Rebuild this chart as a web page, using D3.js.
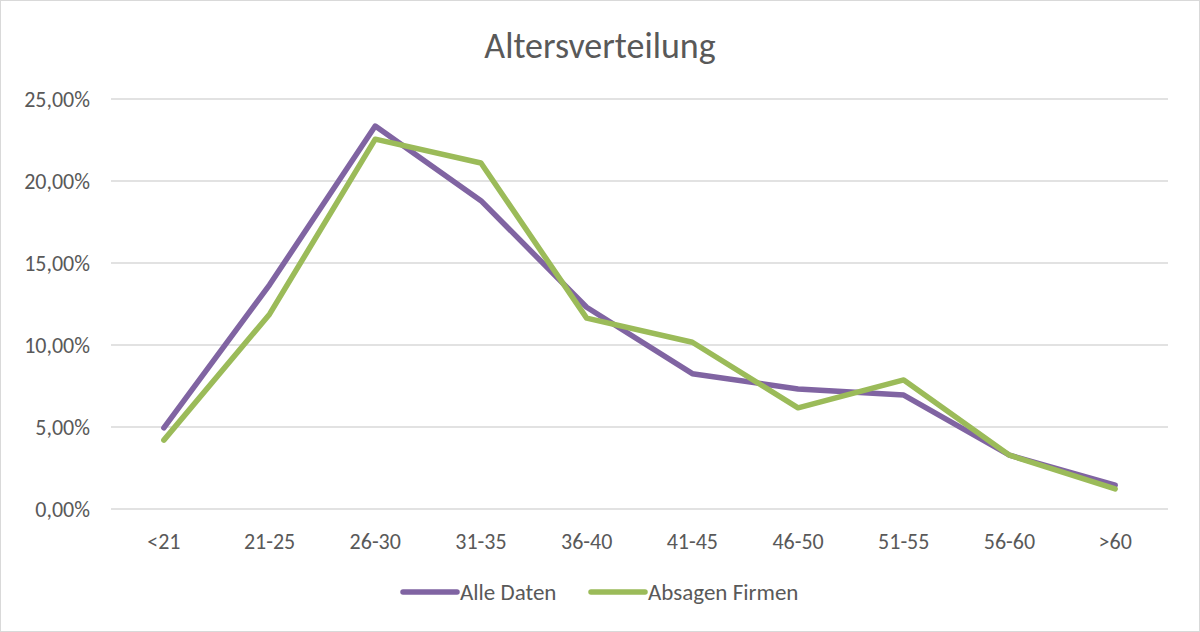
<!DOCTYPE html>
<html>
<head>
<meta charset="utf-8">
<script src="https://cdn.jsdelivr.net/npm/d3@7"></script>
<style>
body { margin: 0; background: #fff; }
</style>
</head>
<body>
<div id="chart"></div>
<script>
const width = 1200;
const height = 632;
const marginTop = 99;
const marginRight = 32;
const marginBottom = 123;
const marginLeft = 111;
const title = 'Altersverteilung';

const categories = ['<21', '21-25', '26-30', '31-35', '36-40', '41-45', '46-50', '51-55', '56-60', '>60'];
const alleDaten = [4.95, 13.67, 23.35, 18.8, 12.3, 8.25, 7.32, 6.95, 3.28, 1.45];
const absagenFirmen = [4.2, 11.88, 22.55, 21.1, 11.64, 10.17, 6.17, 7.87, 3.28, 1.22];
const yTicks = [0, 5, 10, 15, 20, 25];

const series = [
  {name: 'Alle Daten', values: alleDaten, color: '#8064A2'},
  {name: 'Absagen Firmen', values: absagenFirmen, color: '#9BBB59'}
];

const font = 'Carlito, "Open Sans", sans-serif';
const textColor = '#595959';

const svg = d3.select('#chart').append('svg')
  .attr('width', width)
  .attr('height', height)
  .style('font-family', font);

// outer border
svg.append('rect')
  .attr('x', 0.5).attr('y', 0.5)
  .attr('width', width - 1).attr('height', height - 1)
  .attr('fill', '#fff')
  .attr('stroke', '#d9d9d9');

const x = d3.scaleBand()
  .domain(categories)
  .range([marginLeft, width - marginRight]);

const y = d3.scaleLinear()
  .domain([0, 25])
  .range([height - marginBottom, marginTop]);

// gridlines
svg.append('g')
  .selectAll('line')
  .data(yTicks)
  .join('line')
  .attr('x1', marginLeft)
  .attr('x2', width - marginRight)
  .attr('y1', d => y(d))
  .attr('y2', d => y(d))
  .attr('stroke', '#d9d9d9')
  .attr('stroke-width', 1.5);

// y axis labels
const yAxis = svg.append('g')
  .attr('transform', `translate(${marginLeft - 18},0)`)
  .call(d3.axisLeft(y).tickValues(yTicks).tickSize(0).tickFormat(d => d.toFixed(2).replace('.', ',') + '%'));
yAxis.select('.domain').remove();
yAxis.selectAll('text')
  .attr('fill', textColor)
  .style('font-size', '22px')
  .style('font-family', font);

// x axis labels
const xAxis = svg.append('g')
  .attr('transform', `translate(0,${height - marginBottom + 21})`)
  .call(d3.axisBottom(x).tickSize(0));
xAxis.select('.domain').remove();
xAxis.selectAll('text')
  .attr('fill', textColor)
  .style('font-size', '22px')
  .style('font-family', font);

const line = d3.line()
  .x((d, i) => x(categories[i]) + x.bandwidth() / 2)
  .y(d => y(d));

svg.append('g')
  .selectAll('path')
  .data(series)
  .join('path')
  .attr('d', d => line(d.values))
  .attr('fill', 'none')
  .attr('stroke', d => d.color)
  .attr('stroke-width', 5.5)
  .attr('stroke-linejoin', 'round')
  .attr('stroke-linecap', 'round');

// title
svg.append('text')
  .attr('x', width / 2)
  .attr('y', 58)
  .attr('text-anchor', 'middle')
  .attr('fill', textColor)
  .style('font-size', '36px')
  .text(title);

// legend
const legendX = [403, 591];
const legend = svg.append('g')
  .selectAll('g')
  .data(series)
  .join('g')
  .attr('transform', (d, i) => `translate(${legendX[i]},592)`);

legend.append('line')
  .attr('x1', 0).attr('x2', 54)
  .attr('y1', 0).attr('y2', 0)
  .attr('stroke', d => d.color)
  .attr('stroke-width', 5.5)
  .attr('stroke-linecap', 'round');

legend.append('text')
  .attr('x', 57)
  .attr('dy', '0.35em')
  .attr('fill', textColor)
  .style('font-size', '23px')
  .text(d => d.name);
</script>
</body>
</html>
